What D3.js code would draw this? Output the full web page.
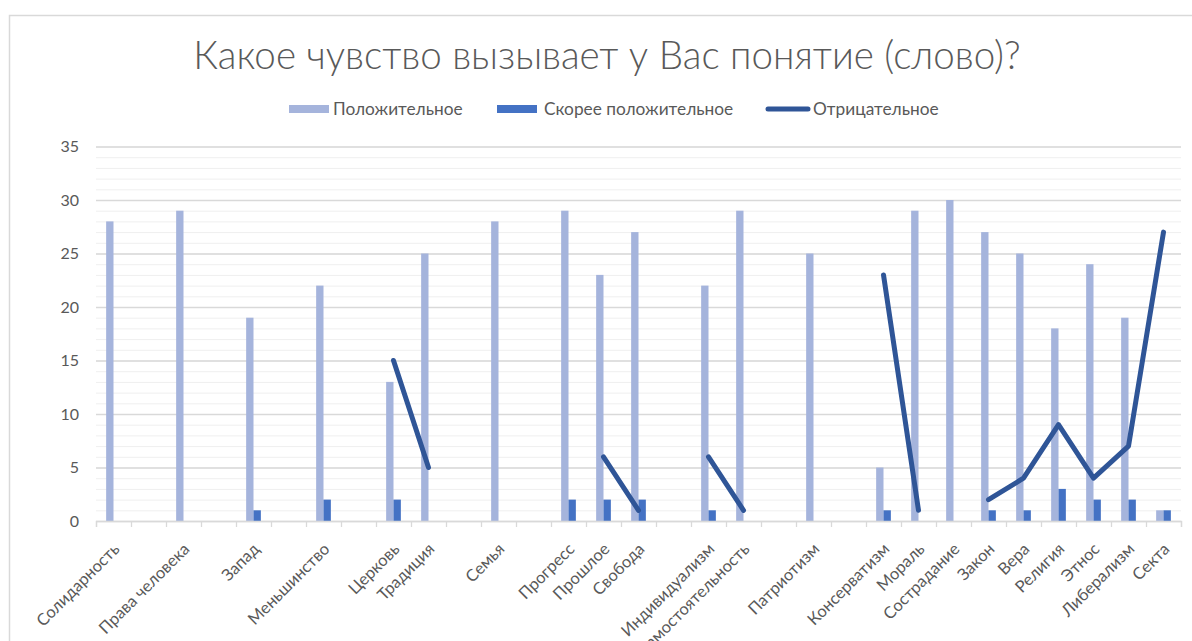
<!DOCTYPE html>
<meta charset="utf-8">
<head>
  <title>Какое чувство вызывает у Вас понятие (слово)?</title>
</head>
<style>
body {
  margin: 0;
  background: white;
  font-family: Lato, "Open Sans", "Noto Sans", sans-serif;
}
svg text {
  fill: #595959;
}
</style>
<body>
<div id="chart"></div>
<script src="https://cdnjs.cloudflare.com/ajax/libs/d3/7.8.5/d3.min.js"></script>
<script>
// categories (blank slots are empty rows in the source table)
var categories = ["Солидарность", "", "Права человека", "", "Запад", "", "Меньшинство", "",
  "Церковь", "Традиция", "", "Семья", "", "Прогресс", "Прошлое", "Свобода", "",
  "Индивидуализм", "Самостоятельность", "", "Патриотизм", "", "Консерватизм", "Мораль",
  "Сострадание", "Закон", "Вера", "Религия", "Этнос", "Либерализм", "Секта"]

var positive = [28, null, 29, null, 19, null, 22, null, 13, 25, null, 28, null, 29, 23, 27, null,
  22, 29, null, 25, null, 5, 29, 30, 27, 25, 18, 24, 19, 1]
var ratherPositive = [null, null, null, null, 1, null, 2, null, 2, null, null, null, null, 2, 2, 2, null,
  1, null, null, null, null, 1, null, null, 1, 1, 3, 2, 2, 1]
var negative = [null, null, null, null, null, null, null, null, 15, 5, null, null, null, null, 6, 1, null,
  6, 1, null, null, null, 23, 1, null, 2, 4, 9, 4, 7, 27]

var seriesNames = ["Положительное", "Скорее положительное", "Отрицательное"]
var yTicks = [0, 5, 10, 15, 20, 25, 30, 35]

var colLight = "#a5b4dc", colDark = "#4472c4", colLine = "#2f5597"

var width = 1192, height = 641
// plot area edges (don't use "top", it's window.top)
var pLeft = 96, pRight = 1181, pTop = 146.5, pBottom = 521

var svg = d3.select("#chart").append("svg")
  .attr("width", width)
  .attr("height", height)

// chart frame
svg.append("rect")
  .attr("x", 9.5).attr("y", 15.5)
  .attr("width", 1400).attr("height", 800)
  .attr("fill", "white")
  .attr("stroke", "#d9d9d9")
  .attr("stroke-width", 1.5)

var idx = d3.range(categories.length)
var x = d3.scaleBand().domain(idx).range([pLeft, pRight])
var xEdges = d3.scaleLinear().domain([0, categories.length]).range([pLeft, pRight])
var y = d3.scaleLinear().domain([0, 35]).range([pBottom, pTop])

// minor gridlines
svg.append("g")
  .attr("transform", "translate(" + pLeft + ",0)")
  .call(d3.axisLeft(y).tickValues(d3.range(0, 36)).tickSize(-(pRight - pLeft)).tickFormat(""))
  .call(g => g.select(".domain").remove())
  .call(g => g.selectAll("line").attr("stroke", "#efefef").attr("stroke-width", 1))

// major gridlines + labels
svg.append("g")
  .attr("transform", "translate(" + pLeft + ",0)")
  .call(d3.axisLeft(y).tickValues(yTicks).tickSize(-(pRight - pLeft)).tickPadding(17))
  .call(g => g.select(".domain").remove())
  .call(g => g.selectAll("line").attr("stroke", "#d9d9d9").attr("stroke-width", 1.3))
  .call(g => g.selectAll("text").attr("font-size", 16).attr("fill", "#595959")
    .attr("font-family", "Lato, 'Open Sans', sans-serif"))

// bars
var bw = x.bandwidth() * 0.21
var sub = d3.scaleBand().domain(["p", "r"]).range([-bw, bw])

svg.append("g").selectAll("rect")
  .data(idx.filter(i => positive[i] != null))
  .join("rect")
  .attr("x", i => x(i) + x.bandwidth() / 2 + sub("p"))
  .attr("y", i => y(positive[i]))
  .attr("width", sub.bandwidth())
  .attr("height", i => y(0) - y(positive[i]))
  .attr("fill", colLight)

svg.append("g").selectAll("rect")
  .data(idx.filter(i => ratherPositive[i] != null))
  .join("rect")
  .attr("x", i => x(i) + x.bandwidth() / 2 + sub("r"))
  .attr("y", i => y(ratherPositive[i]))
  .attr("width", sub.bandwidth())
  .attr("height", i => y(0) - y(ratherPositive[i]))
  .attr("fill", colDark)

// x axis with ticks on category edges
svg.append("g")
  .attr("transform", "translate(0," + pBottom + ")")
  .call(d3.axisBottom(xEdges).tickValues(d3.range(0, categories.length + 1)).tickSize(6).tickFormat(""))
  .call(g => g.selectAll("line, path").attr("stroke", "#d9d9d9").attr("stroke-width", 1.3))

// category labels
svg.append("g").selectAll("text")
  .data(idx.filter(i => categories[i] !== ""))
  .join("text")
  .attr("transform", i => "translate(" + (x(i) + x.bandwidth() / 2 + 3) + "," + (pBottom + 25) + ") rotate(-45)")
  .attr("text-anchor", "end")
  .attr("dy", "0.35em")
  .attr("font-size", 16.5)
  .text(i => categories[i])

// line series with gaps
var line = d3.line()
  .defined(i => negative[i] != null)
  .x(i => x(i) + x.bandwidth() / 2)
  .y(i => y(negative[i]))

svg.append("path")
  .datum(idx)
  .attr("d", line)
  .attr("fill", "none")
  .attr("stroke", colLine)
  .attr("stroke-width", 5)
  .attr("stroke-linecap", "round")
  .attr("stroke-linejoin", "round")

// title
svg.append("text")
  .attr("x", 607)
  .attr("y", 69)
  .attr("text-anchor", "middle")
  .attr("font-size", 38.6)
  .attr("font-weight", 300)
  .attr("fill", "#595959")
  .text("Какое чувство вызывает у Вас понятие (слово)?")

// legend
var legend = svg.append("g").attr("font-size", 17.3)
var legX = [289, 497, 766], legTextX = [333, 544, 813]
seriesNames.forEach(function(name, k) {
  if (k < 2) {
    legend.append("rect")
      .attr("x", legX[k]).attr("y", 105)
      .attr("width", 40).attr("height", 8)
      .attr("fill", k == 0 ? colLight : colDark)
  } else {
    legend.append("line")
      .attr("x1", legX[k] + 2).attr("x2", legX[k] + 42)
      .attr("y1", 109).attr("y2", 109)
      .attr("stroke", colLine).attr("stroke-width", 5)
      .attr("stroke-linecap", "round")
  }
  legend.append("text")
    .attr("x", legTextX[k]).attr("y", 109)
    .attr("dy", "0.35em")
    .text(name)
})
</script>
</body>
</html>
